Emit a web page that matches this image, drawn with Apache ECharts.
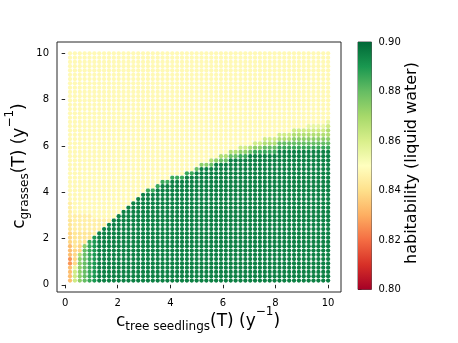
<!DOCTYPE html>
<html>
<head>
<meta charset="utf-8">
<script src="https://cdn.jsdelivr.net/npm/echarts@6/dist/echarts.min.js"></script>
<style>
html,body{margin:0;padding:0;background:#fff;}
#chart{width:458px;height:343px;}
</style>
</head>
<body>
<div id="chart"></div>
<script>
// grid coordinates of the sampled points (x = c_tree seedlings, y = c_grasses)
const xValues = [0.185,0.370,0.556,0.741,0.926,1.111,1.296,1.481,1.667,1.852,2.037,2.222,2.407,2.593,2.778,2.963,3.148,3.333,3.519,3.704,3.889,4.074,4.259,4.444,4.630,4.815,5.000,5.185,5.370,5.556,5.741,5.926,6.111,6.296,6.481,6.667,6.852,7.037,7.222,7.407,7.593,7.778,7.963,8.148,8.333,8.519,8.704,8.889,9.074,9.259,9.444,9.630,9.815,10.000];
const yValues = [0.185,0.370,0.556,0.741,0.926,1.111,1.296,1.481,1.667,1.852,2.037,2.222,2.407,2.593,2.778,2.963,3.148,3.333,3.519,3.704,3.889,4.074,4.259,4.444,4.630,4.815,5.000,5.185,5.370,5.556,5.741,5.926,6.111,6.296,6.481,6.667,6.852,7.037,7.222,7.407,7.593,7.778,7.963,8.148,8.333,8.519,8.704,8.889,9.074,9.259,9.444,9.630,9.815,10.000];

// habitability levels
const levelCodes  = ['R',  'O',  'Q',  'P',  'p',  'Y',  'a',  'b',  'c',  'd',  'e',  'f',  'g',  'G'];
const levelValues = [0.826,0.833,0.838,0.842,0.845,0.848,0.856,0.862,0.868,0.874,0.880,0.886,0.890,0.895];

// one entry per x column, runs of levels from the bottom row upwards
const columnRuns = [
  "O4 R2 O3 Q3 P3 p4 Y35",
  "b3 a1 Q4 P4 p4 Y38",
  "d6 c1 Q2 P3 p4 Y38",
  "e8 d1 P3 p4 Y38",
  "f10 P2 p4 Y38",
  "g11 p4 Y39",
  "G12 p3 Y39",
  "G13 p2 Y39",
  "G14 p1 Y39",
  "G15 Y39",
  "G16 Y38",
  "G17 Y37",
  "G18 Y36",
  "G19 Y35",
  "G20 Y34",
  "G21 Y33",
  "G21 f1 Y32",
  "G21 f1 Y32",
  "G22 f1 Y31",
  "G23 f1 Y30",
  "G23 f1 Y30",
  "G24 f1 Y29",
  "G24 f1 Y29",
  "G24 f1 Y29",
  "G25 f1 Y28",
  "G25 f1 Y28",
  "G26 e1 Y27",
  "G27 d1 Y26",
  "G27 d1 Y26",
  "G27 e1 c1 Y25",
  "G28 d1 Y25",
  "G28 e1 c1 Y24",
  "G28 e1 c1 Y24",
  "G29 e1 c1 Y23",
  "G29 e1 c1 Y23",
  "G29 f1 d1 b1 Y22",
  "G29 f1 d1 b1 Y22",
  "G30 e1 c1 Y22",
  "G30 f1 d1 b1 Y21",
  "G30 f1 d1 b1 Y21",
  "G30 f1 e1 c1 b1 Y20",
  "G30 f1 e1 c1 b1 Y20",
  "G30 f1 e1 c1 b1 Y20",
  "G31 f1 e1 c1 b1 Y19",
  "G31 f1 e1 c1 b1 Y19",
  "G31 f1 e1 c1 b1 Y19",
  "G31 f1 e1 d1 c1 b1 Y18",
  "G31 f1 e1 d1 c1 b1 Y18",
  "G31 f1 e1 d1 c1 b1 Y18",
  "G31 f1 e1 d1 c1 b1 a1 Y17",
  "G31 f1 e1 d1 c1 b1 a1 Y17",
  "G31 f1 e1 d1 c1 b1 a1 Y17",
  "G31 f1 e1 d1 c1 b1 a1 Y17",
  "G31 f1 e1 d1 c2 b1 a1 Y16"
];

const xTicks = [0, 2, 4, 6, 8, 10];
const yTicks = [0, 2, 4, 6, 8, 10];
const colorbarTicks = [0.80, 0.82, 0.84, 0.86, 0.88, 0.90];
const colorRange = [0.80, 0.90];
const rdYlGn = ['#a50026','#d73027','#f46d43','#fdae61','#fee08b','#ffffbf','#d9ef8b','#a6d96a','#66bd63','#1a9850','#006837'];

// build [x, y, value] triples
const points = [];
columnRuns.forEach((runs, ci) => {
  let row = 0;
  runs.split(' ').forEach(tok => {
    const code = tok[0];
    const n = parseInt(tok.slice(1), 10);
    const v = levelValues[levelCodes.indexOf(code)];
    for (let k = 0; k < n && row < yValues.length; k++, row++) {
      points.push([xValues[ci], yValues[row], v]);
    }
  });
});

const FONT = 'DejaVu Sans';
const axisColor = '#262626';
const chart = echarts.init(document.getElementById('chart'), null, {renderer: 'canvas'});

const titleRich = {
  m: {fontSize: 17, fontFamily: FONT, lineHeight: 17, verticalAlign: 'bottom', padding: [0, 0, 4, 0], color: '#000'},
  s: {fontSize: 12, fontFamily: FONT, lineHeight: 12, verticalAlign: 'bottom', padding: [0, 0, 1.5, 0], color: '#000'},
  u: {fontSize: 12, fontFamily: FONT, lineHeight: 12, verticalAlign: 'bottom', padding: [0, 0, 16, 0], color: '#000'}
};

const option = {
  animation: false,
  backgroundColor: '#fff',
  grid: [
    {left: 57, top: 42, width: 284, height: 250, show: true, borderColor: axisColor, borderWidth: 1, backgroundColor: 'transparent', containLabel: false},
    {left: 358, top: 42, width: 13.5, height: 247.5, show: true, borderColor: '#555', borderWidth: 1, backgroundColor: 'transparent', containLabel: false}
  ],
  xAxis: [
    {
      gridIndex: 0, type: 'value', min: -0.31, max: 10.49,
      axisLine: {show: false}, splitLine: {show: false},
      axisTick: {show: true, length: 3.5, lineStyle: {color: axisColor, width: 1}, customValues: xTicks},
      axisLabel: {show: true, customValues: xTicks, fontSize: 10, fontFamily: FONT, color: '#000', margin: 6, formatter: v => String(Math.round(v))}
    },
    {gridIndex: 1, type: 'value', min: 0, max: 1, show: false}
  ],
  yAxis: [
    {
      gridIndex: 0, type: 'value', min: -0.31, max: 10.49,
      axisLine: {show: false}, splitLine: {show: false},
      axisTick: {show: true, length: 3.5, lineStyle: {color: axisColor, width: 1}, customValues: yTicks},
      axisLabel: {show: true, customValues: yTicks, fontSize: 10, fontFamily: FONT, color: '#000', margin: 8, formatter: v => String(Math.round(v))}
    },
    {
      gridIndex: 1, type: 'value', min: colorRange[0], max: colorRange[1], position: 'right',
      axisLine: {show: false}, splitLine: {show: false},
      axisTick: {show: true, length: 3.5, lineStyle: {color: axisColor, width: 1}, customValues: colorbarTicks},
      axisLabel: {show: true, customValues: colorbarTicks, fontSize: 10, fontFamily: FONT, color: '#000', margin: 7, formatter: v => v.toFixed(2)}
    }
  ],
  visualMap: {
    type: 'continuous', show: false, min: colorRange[0], max: colorRange[1], dimension: 2, seriesIndex: 0,
    inRange: {color: rdYlGn}
  },
  series: [
    {
      type: 'scatter', xAxisIndex: 0, yAxisIndex: 0, data: points,
      symbol: 'circle', symbolSize: 4.3, large: false, progressive: 0,
      itemStyle: {opacity: 1}, emphasis: {disabled: true}, silent: true
    },
    {
      type: 'custom', xAxisIndex: 1, yAxisIndex: 1, silent: true,
      data: [[0, colorRange[0], 1, colorRange[1]]],
      renderItem: (params, api) => {
        const p0 = api.coord([api.value(0), api.value(1)]);
        const p1 = api.coord([api.value(2), api.value(3)]);
        const stops = rdYlGn.map((c, i) => ({offset: i / (rdYlGn.length - 1), color: rdYlGn[rdYlGn.length - 1 - i]}));
        return {
          type: 'rect',
          shape: {x: p0[0], y: p1[1], width: p1[0] - p0[0], height: p0[1] - p1[1]},
          style: {fill: new echarts.graphic.LinearGradient(0, 0, 0, 1, stops)}
        };
      }
    }
  ],
  graphic: [
    {
      type: 'text', x: 198, y: 334, silent: true,
      style: {text: '{m|c}{s|tree seedlings}{m|(T) (y}{u|−1}{m|)}', rich: titleRich, align: 'center', verticalAlign: 'bottom'}
    },
    {
      type: 'text', x: 32, y: 166, rotation: Math.PI / 2, silent: true,
      style: {text: '{m|c}{s|grasses}{m|(T) (y}{u|−1}{m|)}', rich: titleRich, align: 'center', verticalAlign: 'bottom'}
    },
    {
      type: 'text', x: 412, y: 163, rotation: Math.PI / 2, silent: true,
      style: {text: 'habitability (liquid water)', fontSize: 16, fontFamily: FONT, fill: '#000', align: 'center', verticalAlign: 'middle'}
    }
  ]
};
chart.setOption(option);
</script>
</body>
</html>
